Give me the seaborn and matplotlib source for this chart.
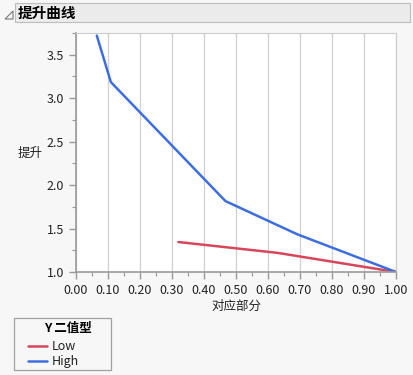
import matplotlib
matplotlib.use("Agg")
import matplotlib.pyplot as plt
import matplotlib.patches as mpatches
from matplotlib.ticker import MultipleLocator
import numpy as np
import pandas as pd
import seaborn as sns

# lift curve values
high_portion = [0.065, 0.109, 0.467, 0.692, 1.00]
high_lift = [3.72, 3.185, 1.816, 1.433, 1.00]
low_portion = [0.32, 0.63, 1.00]
low_lift = [1.345, 1.22, 1.00]

x_ticks = np.round(np.arange(0, 1.01, 0.1), 2)
y_ticks = [1.0, 1.5, 2.0, 2.5, 3.0, 3.5]

df = pd.concat([
    pd.DataFrame({"portion": low_portion, "lift": low_lift, "Y": "Low"}),
    pd.DataFrame({"portion": high_portion, "lift": high_lift, "Y": "High"}),
])

sns.set_theme(style="white")
plt.rcParams['font.family'] = ['Noto Sans CJK SC', 'DejaVu Sans']

bg = "#f7f7f7"
fig = plt.figure(figsize=(4.14, 3.75), dpi=100, facecolor=bg)
ax = fig.add_axes([76 / 414, 1 - 272 / 375, 320 / 414, 239 / 375])
ax.set_facecolor("white")

colors = {"Low": "#d6475b", "High": "#3d6ee0"}
sns.lineplot(data=df, x="portion", y="lift", hue="Y", palette=colors,
             sort=False, estimator=None, linewidth=1.8, ax=ax, legend=False)

ax.set_xlim(0, 1.0)
ax.set_ylim(1.0, 3.75)
ax.set_xticks(x_ticks)
ax.set_xticklabels([f"{v:.2f}" for v in x_ticks])
ax.set_yticks(y_ticks)
ax.set_yticklabels([f"{v:.1f}" for v in y_ticks])
ax.xaxis.set_minor_locator(MultipleLocator(0.05))
ax.yaxis.set_minor_locator(MultipleLocator(0.25))
ax.tick_params(which="both", direction="out", colors="#999999", labelcolor="#222222",
               labelsize=9, bottom=True, left=True)
ax.tick_params(which="major", length=5, width=1)
ax.tick_params(which="minor", length=3, width=0.8)
ax.grid(axis="x", which="major", color="#d0d0d0", linewidth=0.9)
ax.set_axisbelow(True)
for side in ["left", "bottom"]:
    ax.spines[side].set_color("#9a9a9a")
    ax.spines[side].set_linewidth(1.2)
for side in ["top", "right"]:
    ax.spines[side].set_color("#cccccc")
    ax.spines[side].set_linewidth(0.8)

ax.set_xlabel("对应部分", fontsize=9, color="#222222", labelpad=2)
ax.set_ylabel("")
fig.text(30 / 414, 1 - 153 / 375, "提升", fontsize=9, color="#222222",
         ha="center", va="center")

# header bar
fig.patches.append(mpatches.Rectangle((15 / 414, 1 - 22 / 375), 395 / 414, 19 / 375,
                                      transform=fig.transFigure, facecolor="#ebebeb",
                                      edgecolor="#bdbdbd", linewidth=0.8))
fig.patches.append(mpatches.Polygon([(5 / 414, 1 - 19 / 375), (13 / 414, 1 - 19 / 375),
                                     (13 / 414, 1 - 11 / 375)], closed=True,
                                    transform=fig.transFigure, facecolor="none",
                                    edgecolor="#777777", linewidth=0.8))
fig.text(18 / 414, 1 - 12.5 / 375, "提升曲线", fontsize=10.5, fontweight="bold",
         color="black", ha="left", va="center")

# legend box
fig.patches.append(mpatches.Rectangle((14 / 414, 1 - 370 / 375), 97 / 414, 52 / 375,
                                      transform=fig.transFigure, facecolor=bg,
                                      edgecolor="#a0a0a0", linewidth=0.9))
fig.text(68 / 414, 1 - 328 / 375, "Y 二值型", fontsize=9, fontweight="bold",
         color="black", ha="center", va="center")
for i, name in enumerate(["Low", "High"]):
    yy = 1 - (346 + i * 15) / 375
    fig.lines.append(plt.Line2D([28 / 414, 47 / 414], [yy, yy], transform=fig.transFigure,
                                color=colors[name], linewidth=1.8))
    fig.text(52 / 414, yy, name, fontsize=9, color="#222222", ha="left", va="center")

fig.savefig("out.png", dpi=100, facecolor=bg)
